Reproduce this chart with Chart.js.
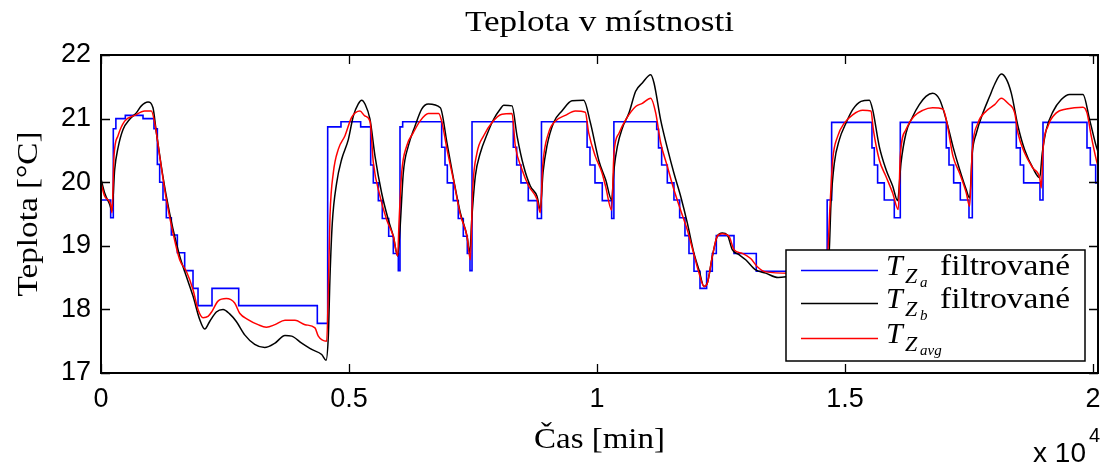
<!DOCTYPE html>
<html>
<head>
<meta charset="utf-8">
<script src="https://cdn.jsdelivr.net/npm/chart.js@4.4.1/dist/chart.umd.min.js"></script>
<style>
  html, body { margin: 0; padding: 0; background: #fff; }
  #tempChart { display: block; }
</style>
</head>
<body>
<canvas id="tempChart" width="1111" height="466" style="width:1111px;height:466px"></canvas>
<script>
// T_Za filtered - step signal, value holds from each time until the next one
const blueTime = [0, 195, 248, 300, 490, 847, 1068, 1136, 1183, 1250, 1317, 1418, 1539, 1687, 1855, 1956, 2238, 2776, 4361,
  4570, 4838, 5235, 5437, 5490, 5591, 5671, 5800, 5893, 5994, 6028, 6082, 6868, 6935, 6982, 7102, 7203, 7304, 7385, 7439,
  7480, 8312, 8380, 8467, 8614, 8796, 8880, 9800, 9858, 9959, 10106, 10295, 10340, 11203, 11240, 11303, 11417, 11551,
  11666, 11773, 11854, 11955, 12076, 12210, 12324, 12405, 12762, 13211, 14640, 14730, 15543, 15590, 15657, 15791, 15993,
  16114, 17041, 17096, 17190, 17324, 17499, 17566, 18453, 18533, 18601, 18930, 18991, 19878, 19945, 20053, 20100];
const blueTemp = [19.72, 19.44, 20.84, 21.0, 21.05, 21.0, 20.84, 20.28, 20.0, 19.72, 19.44, 19.17, 18.89, 18.61, 18.33, 18.06, 18.33, 18.06, 17.78,
  20.87, 20.95, 20.87, 20.27, 19.99, 19.71, 19.43, 19.15, 18.88, 18.61, 20.87, 20.95, 20.55, 20.27, 19.99, 19.71, 19.43, 19.15, 18.88, 18.61,
  20.95, 20.55, 20.27, 19.99, 19.71, 19.43, 20.95, 20.55, 20.27, 19.99, 19.71, 19.43, 20.95, 20.83, 20.54, 20.27, 19.99, 19.72,
  19.44, 19.16, 18.88, 18.6, 18.33, 18.6, 18.88, 19.16, 18.88, 18.6, 19.72, 20.94, 20.54, 20.27, 19.99, 19.72, 19.44,
  20.94, 20.54, 20.27, 19.99, 19.72, 19.44, 20.94, 20.54, 20.27, 19.99, 19.72, 20.94, 20.54, 20.27, 19.99, 19.99];

// T_Zb filtered
const blackTime = [6, 74, 175, 222, 276, 343, 444, 578, 712, 813, 948, 1048, 1116, 1216, 1317, 1452, 1586, 1720, 1855, 1990,
  2091, 2191, 2325, 2460, 2594, 2728, 2897, 3099, 3300, 3508, 3709, 3844, 4046, 4248, 4449, 4536, 4583, 4617, 4663, 4751,
  4852, 4986, 5087, 5187, 5255, 5322, 5423, 5524, 5658, 5792, 5893, 5981, 6028, 6095, 6196, 6330, 6465, 6599, 6841, 6975,
  7110, 7244, 7379, 7433, 7479, 7547, 7647, 7782, 7916, 8050, 8118, 8286, 8387, 8521, 8655, 8790, 8857, 8911, 8991, 9126,
  9292, 9495, 9731, 9865, 10040, 10174, 10295, 10342, 10409, 10510, 10645, 10779, 10913, 11082, 11149, 11283, 11417, 11551,
  11686, 11820, 11955, 12056, 12157, 12223, 12324, 12425, 12526, 12627, 12727, 12862, 12997, 13198, 13400, 13650, 13900,
  14300, 14620, 14683, 14717, 14784, 14886, 15020, 15154, 15322, 15490, 15557, 15691, 15826, 15960, 16060, 16128, 16229,
  16363, 16497, 16632, 16766, 16907, 17041, 17176, 17310, 17445, 17512, 17566, 17647, 17781, 17916, 18017, 18151, 18252,
  18352, 18487, 18621, 18789, 18924, 18977, 19058, 19192, 19360, 19529, 19797, 19932, 20066, 20100];
const blackTemp = [20.03, 19.83, 19.65, 19.55, 20.2, 20.54, 20.83, 20.99, 21.09, 21.2, 21.26, 21.17, 20.78, 20.25, 19.78, 19.26, 18.84, 18.52, 18.21, 17.84,
  17.69, 17.81, 17.96, 18.0, 17.93, 17.81, 17.6, 17.45, 17.4, 17.47, 17.59, 17.58, 17.47, 17.37, 17.29, 17.2, 17.58, 18.52, 19.36, 19.99,
  20.36, 20.67, 21.04, 21.23, 21.29, 21.23, 20.99, 20.41, 19.83, 19.41, 19.15, 18.84, 19.26, 20.15, 20.57, 20.88, 21.15, 21.23, 21.17, 20.62,
  20.04, 19.52, 19.15, 18.89, 19.47, 20.1, 20.46, 20.75, 20.99, 21.15, 21.21, 21.2, 20.73, 20.25, 19.94, 19.78, 19.57, 20.15, 20.57, 20.94,
  21.12, 21.28, 21.29, 20.94, 20.33, 20.04, 19.72, 20.2, 20.56, 20.85, 21.09, 21.43, 21.56, 21.69, 21.56, 20.98, 20.54, 20.14,
  19.78, 19.36, 18.88, 18.62, 18.36, 18.41, 18.83, 19.15, 19.2, 19.17, 18.94, 18.86, 18.78, 18.62, 18.57, 18.5, 18.52,
  18.55, 18.5, 18.94, 19.67, 20.3, 20.67, 20.93, 21.14, 21.27, 21.29, 21.14, 20.56, 20.2, 19.94, 19.71, 20.3, 20.77,
  21.03, 21.22, 21.35, 21.4, 21.3, 20.98, 20.56, 20.2, 19.88, 19.75, 20.46, 20.77, 21.09, 21.35, 21.54, 21.7, 21.62,
  21.4, 20.88, 20.51, 20.22, 20.07, 20.46, 20.83, 21.11, 21.3, 21.38, 21.38, 20.98, 20.56, 20.48];

// T_Zavg
const redTime = [6, 74, 195, 222, 262, 343, 477, 679, 880, 1014, 1095, 1183, 1317, 1452, 1586, 1720, 1855, 1956, 2057, 2158,
  2238, 2359, 2527, 2695, 2796, 2964, 3166, 3334, 3508, 3709, 3911, 4113, 4314, 4381, 4550, 4583, 4617, 4684, 4785, 4919,
  5053, 5221, 5322, 5423, 5490, 5625, 5759, 5893, 5981, 6008, 6062, 6163, 6297, 6431, 6599, 6807, 6874, 6975, 7110, 7244,
  7379, 7446, 7493, 7580, 7715, 7883, 8084, 8286, 8353, 8487, 8622, 8790, 8857, 8904, 9025, 9159, 9360, 9562, 9764, 9831,
  9965, 10100, 10174, 10295, 10342, 10443, 10577, 10779, 10913, 11082, 11183, 11283, 11417, 11551, 11686, 11820, 11955,
  12056, 12157, 12223, 12324, 12425, 12526, 12660, 12761, 12929, 13098, 13232, 13400, 13890, 14300, 14620, 14700, 14751,
  14851, 14986, 15154, 15356, 15524, 15570, 15691, 15826, 15960, 16074, 16114, 16229, 16397, 16565, 16766, 16974, 17055,
  17176, 17310, 17445, 17512, 17566, 17681, 17849, 18017, 18151, 18285, 18420, 18487, 18621, 18789, 18924, 18957, 18991,
  19091, 19259, 19461, 19797, 19878, 19965, 20066, 20100];
const redTemp = [19.97, 19.78, 19.65, 19.52, 20.41, 20.73, 20.96, 21.05, 21.12, 21.12, 20.88, 20.41, 19.73, 19.2, 18.78, 18.6, 18.31, 18.0, 17.87, 17.89,
  17.97, 18.13, 18.17, 18.1, 17.94, 17.84, 17.76, 17.72, 17.76, 17.83, 17.83, 17.76, 17.71, 17.58, 17.5, 18.31, 19.47, 20.15, 20.52, 20.73,
  21.02, 21.12, 21.04, 20.96, 20.31, 19.78, 19.41, 19.15, 18.84, 19.36, 20.15, 20.57, 20.78, 20.96, 21.08, 21.08, 20.94, 20.52, 20.02, 19.49,
  19.15, 18.78, 19.89, 20.46, 20.73, 20.94, 21.07, 21.08, 20.57, 20.2, 19.94, 19.73, 19.52, 20.25, 20.78, 20.96, 21.05, 21.12, 21.1, 20.78,
  20.41, 20.15, 19.93, 19.56, 20.46, 20.77, 20.98, 21.19, 21.24, 21.32, 21.09, 20.62, 20.25, 19.88, 19.56, 19.25, 18.86,
  18.57, 18.36, 18.41, 18.83, 19.15, 19.19, 19.15, 18.94, 18.88, 18.8, 18.67, 18.59, 18.57, 18.57, 18.55, 19.67, 20.35,
  20.72, 20.93, 21.06, 21.13, 21.12, 20.83, 20.35, 20.09, 19.83, 19.57, 20.41, 20.83, 21.04, 21.13, 21.17, 21.15, 20.93,
  20.41, 20.14, 19.83, 19.62, 20.51, 20.93, 21.12, 21.22, 21.32, 21.24, 21.09, 20.77, 20.46, 20.22, 20.07, 19.91, 20.51,
  20.88, 21.09, 21.15, 21.18, 21.09, 20.72, 20.35, 20.25];

const xTicks = [0, 5000, 10000, 15000, 20000];
const xTickLabels = ['0', '0.5', '1', '1.5', '2'];
const yTicks = [17, 18, 19, 20, 21, 22];
const yTickLabels = ['17', '18', '19', '20', '21', '22'];

const toPoints = (xs, ys) => xs.map((t, i) => ({ x: t, y: ys[i] }));

const serif = '"Liberation Serif", "Times New Roman", serif';
const sans = '"Liberation Sans", Arial, sans-serif';

// draw text, optionally stretched to a given width (Computer Modern is wider than Times)
function putText(ctx, text, x, y, font, align, width) {
    ctx.save();
    ctx.font = font;
    ctx.textBaseline = 'alphabetic';
    const w = ctx.measureText(text).width;
    const sx = width ? width / w : 1;
    const realW = w * sx;
    let left = x;
    if (align === 'center') left = x - realW / 2;
    if (align === 'right') left = x - realW;
    ctx.translate(left, y);
    ctx.scale(sx, 1);
    ctx.textAlign = 'left';
    ctx.fillText(text, 0, 0);
    ctx.restore();
}

const matlabFrame = {
    id: 'matlabFrame',
    afterDraw(chart) {
        const ctx = chart.ctx;
        const { left, right, top, bottom } = chart.chartArea;
        const xs = chart.scales.x, ys = chart.scales.y;
        ctx.save();
        ctx.fillStyle = '#000';
        ctx.strokeStyle = '#000';

        // inward ticks on all sides
        ctx.lineWidth = 1.3;
        ctx.beginPath();
        xTicks.forEach(v => {
            const px = Math.round(xs.getPixelForValue(v)) + 0.5;
            ctx.moveTo(px, bottom); ctx.lineTo(px, bottom - 9);
            ctx.moveTo(px, top); ctx.lineTo(px, top + 9);
        });
        yTicks.forEach(v => {
            const py = Math.round(ys.getPixelForValue(v)) + 0.5;
            ctx.moveTo(left, py); ctx.lineTo(left + 9, py);
            ctx.moveTo(right, py); ctx.lineTo(right - 9, py);
        });
        ctx.stroke();

        // axes box
        ctx.lineWidth = 2;
        ctx.strokeRect(left, top, right - left, bottom - top);

        // title + axis labels
        putText(ctx, 'Teplota v místnosti', (left + right) / 2, 31, '29px ' + serif, 'center', 269);
        putText(ctx, 'Čas [min]', (left + right) / 2, 448, '29px ' + serif, 'center', 131);
        ctx.save();
        ctx.translate(37, (top + bottom) / 2);
        ctx.rotate(-Math.PI / 2);
        putText(ctx, 'Teplota [°C]', 0, 0, '29px ' + serif, 'center', 165);
        ctx.restore();

        // exponent of x axis
        putText(ctx, 'x 10', 1086, 462, '28px ' + sans, 'right');
        putText(ctx, '4', 1089, 442, '20px ' + sans, 'left');

        // legend box
        const lx = 786, ly = 250, lw = 299, lh = 111;
        ctx.fillStyle = '#fff';
        ctx.fillRect(lx, ly, lw, lh);
        ctx.lineWidth = 1.5;
        ctx.strokeRect(lx, ly, lw, lh);

        const rows = [
            { color: '#0000ff', sub: 'a', rest: 'filtrované', y: 270.5 },
            { color: '#000000', sub: 'b', rest: 'filtrované', y: 303.5 },
            { color: '#ff0000', sub: 'avg', rest: '', y: 338.5 }
        ];
        rows.forEach(r => {
            ctx.strokeStyle = r.color;
            ctx.lineWidth = 1.5;
            ctx.beginPath();
            ctx.moveTo(801, r.y); ctx.lineTo(878, r.y);
            ctx.stroke();
            ctx.fillStyle = '#000';
            const base = r.y + 4.5;
            putText(ctx, 'T', 886, base, 'italic 30px ' + serif, 'left');
            putText(ctx, 'Z', 905, base + 8, 'italic 22px ' + serif, 'left');
            putText(ctx, r.sub, 920, base + 12, 'italic 15px ' + serif, 'left');
            if (r.rest) putText(ctx, r.rest, 940, base, '29px ' + serif, 'left', 130);
        });
        ctx.restore();
    }
};

const ctx = document.getElementById('tempChart').getContext('2d');

new Chart(ctx, {
    type: 'line',
    data: {
        datasets: [{
            label: 'T_Za filtrované',
            data: toPoints(blueTime, blueTemp),
            borderColor: '#0000ff',
            borderWidth: 1.6,
            stepped: true,
            pointRadius: 0,
            order: 3
        }, {
            label: 'T_Zb filtrované',
            data: toPoints(blackTime, blackTemp),
            borderColor: '#000000',
            borderWidth: 1.5,
            cubicInterpolationMode: 'monotone',
            pointRadius: 0,
            order: 2
        }, {
            label: 'T_Zavg',
            data: toPoints(redTime, redTemp),
            borderColor: '#ff0000',
            borderWidth: 1.5,
            cubicInterpolationMode: 'monotone',
            pointRadius: 0,
            order: 1
        }]
    },
    options: {
        responsive: false,
        animation: false,
        events: [],
        layout: { padding: { top: 55, right: 13, left: 0, bottom: 0 } },
        plugins: {
            legend: { display: false },
            title: { display: false },
            tooltip: { enabled: false }
        },
        scales: {
            x: {
                type: 'linear',
                min: 0,
                max: 20100,
                grid: { display: false, drawTicks: false },
                border: { display: false },
                afterBuildTicks: s => { s.ticks = xTicks.map(v => ({ value: v })); },
                afterFit: s => { s.height = 93; },
                ticks: {
                    autoSkip: false,
                    maxRotation: 0,
                    padding: 10,
                    color: '#000',
                    font: { family: sans, size: 27 },
                    callback: (v, i) => xTickLabels[i]
                }
            },
            y: {
                type: 'linear',
                min: 17,
                max: 22,
                grid: { display: false, drawTicks: false },
                border: { display: false },
                afterBuildTicks: s => { s.ticks = yTicks.map(v => ({ value: v })); },
                afterFit: s => { s.width = 101; },
                ticks: {
                    autoSkip: false,
                    padding: 10,
                    color: '#000',
                    font: { family: sans, size: 27 },
                    callback: (v, i) => yTickLabels[i]
                }
            }
        }
    },
    plugins: [matlabFrame]
});
</script>
</body>
</html>
